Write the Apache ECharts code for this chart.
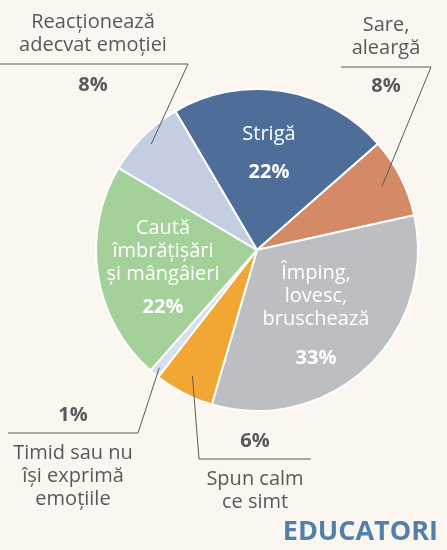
<!DOCTYPE html>
<html><head><meta charset="utf-8">
<script src="https://cdn.jsdelivr.net/npm/echarts@6/dist/echarts.min.js"></script>
<style>html,body{margin:0;padding:0;background:#fbf7f0}#c{width:447px;height:550px}</style>
</head><body><div id="c"></div>
<script>
// ---- data ----
const categories = ['Strigă', 'Sare,\naleargă', 'Împing,\nlovesc,\nbruschează', 'Spun calm\nce simt',
  'Timid sau nu\nîși exprimă\nemoțiile', 'Caută\nîmbrățișări\nși mângâieri', 'Reacționează\nadecvat emoției'];
const values = [22, 8, 33, 6, 1, 22, 8];
const colors = ['#4e6e99', '#d48a66', '#bdbec2', '#f2a735', '#d6dfec', '#a4d09a', '#c3cfe0'];
const insideLabel = [true, false, true, false, false, true, false];

// ---- layout (label placement, not data) ----
const CX = 257, CY = 250, R = 161, START = 120.5;
const place = [
  { x: 269, y: 122.5, gap: 15 },
  { x: 386, y: 13.5, gap: 15, k: 0.87, line: [[431, 67], [341, 67]] },
  { x: 316, y: 261.5, gap: 16 },
  { x: 255, y: 429.5, gap: 15, k: 0.88, pctFirst: true, line: [[199, 459], [311, 459]] },
  { x: 73, y: 403.5, gap: 15, k: 0.95, pctFirst: true, line: [[138, 433], [8, 433]] },
  { x: 163, y: 216.5, gap: 10 },
  { x: 93, y: 10.5, gap: 17, k: 0.93, line: [[188, 64], [0, 64]] }
];

const FONT = '"Open Sans", sans-serif';
function fmt(p) {
  const i = p.dataIndex;
  const names = categories[i].split('\n').map(s => '{n|' + s + '}');
  const pct = '{p|' + values[i] + '%}';
  const gap = '{g' + i + '| }';
  return place[i].pctFirst ? [pct, gap].concat(names).join('\n') : names.concat([gap, pct]).join('\n');
}
function rich(color) {
  const r = {
    n: { fontFamily: FONT, fontSize: 20, lineHeight: 23, color: color },
    p: { fontFamily: FONT, fontSize: 20, fontWeight: 'bold', lineHeight: 23, color: color }
  };
  place.forEach((pl, i) => { r['g' + i] = { fontSize: 2, lineHeight: pl.gap }; });
  return r;
}

const total = values.reduce((a, b) => a + b, 0);
function midAngle(i) {
  let cum = 0;
  for (let j = 0; j < i; j++) cum += values[j];
  return (START - (cum + values[i] / 2) / total * 360) * Math.PI / 180;
}

// visible slices
const sliceData = values.map((v, i) => ({ value: v, name: categories[i], itemStyle: { color: colors[i] } }));
// overlay carrying labels and leader lines (drawn above the slices)
const labelData = values.map((v, i) => ({
  value: v,
  name: categories[i],
  label: insideLabel[i]
    ? { position: 'inside', formatter: fmt, rich: rich('#ffffff') }
    : { position: 'outside', formatter: fmt, rich: rich('#58595b') },
  labelLine: { show: !insideLabel[i] }
}));

const chart = echarts.init(document.getElementById('c'));
chart.setOption({
  backgroundColor: '#fbf7f0',
  animation: false,
  title: {
    text: 'EDUCATORI', right: 4, bottom: -1,
    textStyle: { fontFamily: FONT, fontSize: 27, fontWeight: 'bold', color: '#5180ad' }
  },
  series: [{
    type: 'pie',
    z: 2,
    center: [CX, CY],
    radius: R,
    startAngle: START,
    clockwise: true,
    itemStyle: { borderColor: '#ffffff', borderWidth: 2 },
    label: { show: false },
    labelLine: { show: false },
    data: sliceData
  }, {
    type: 'pie',
    z: 5,
    silent: true,
    center: [CX, CY],
    radius: R,
    startAngle: START,
    clockwise: true,
    avoidLabelOverlap: false,
    itemStyle: { color: 'rgba(0,0,0,0)', borderWidth: 0 },
    emphasis: { disabled: true },
    labelLine: { showAbove: true, lineStyle: { color: '#58595b', width: 1 }, length: 10, length2: 10 },
    label: { align: 'center' },
    labelLayout: function (params) {
      const i = params.dataIndex;
      const pl = place[i];
      const out = { x: pl.x, y: pl.y, align: 'center', verticalAlign: 'top' };
      if (pl.line) {
        const a = midAngle(i);
        const inner = [CX + R * pl.k * Math.cos(a), CY - R * pl.k * Math.sin(a)];
        out.labelLinePoints = [inner, pl.line[0], pl.line[1]];
      }
      return out;
    },
    data: labelData
  }]
});
</script>
</body></html>
